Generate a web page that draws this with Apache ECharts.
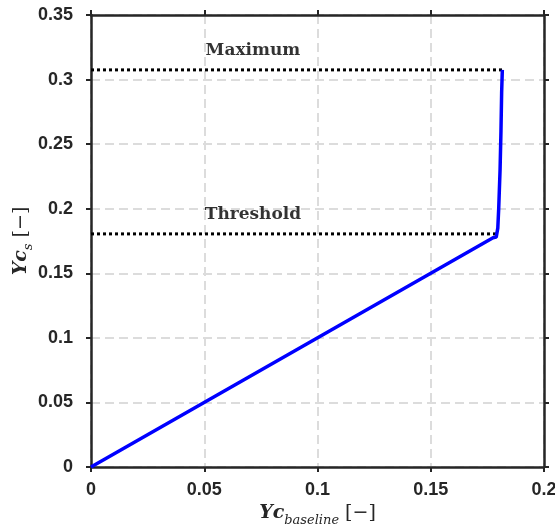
<!DOCTYPE html>
<html>
<head>
<meta charset="utf-8">
<script src="https://cdn.jsdelivr.net/npm/echarts@6/dist/echarts.min.js"></script>
<style>html,body{margin:0;padding:0;background:#fff;}#c{width:555px;height:525px;}</style>
</head>
<body>
<div id="c"></div>
<script>
// Data
var curveX = [0, 0.1775, 0.1789, 0.1796, 0.1800, 0.1806, 0.1810, 0.1813, 0.1816];
var curveY = [0, 0.1775, 0.1780, 0.1850, 0.2000, 0.2300, 0.2600, 0.2900, 0.3075];
var maxLineX = [0, 0.1815];
var maxLineY = [0.3075, 0.3075];
var thrLineX = [0, 0.1789];
var thrLineY = [0.1805, 0.1805];
var annotationText = ['Maximum', 'Threshold'];
var annotationX = [0.0715, 0.0715];
var annotationY = [0.3225, 0.1955];
var xTicks = [0, 0.05, 0.1, 0.15, 0.2];
var yTicks = [0, 0.05, 0.1, 0.15, 0.2, 0.25, 0.3, 0.35];

function zip(a, b) { return a.map(function (v, i) { return [v, b[i]]; }); }

var axisColor = '#262626';
var labelFont = { fontFamily: 'Liberation Sans', fontWeight: 'bold', fontSize: 18, color: '#262626' };
var gridLine = { show: true, lineStyle: { color: '#dcdcdc', width: 2, type: [9, 5] } };
var nameRich = {
  yc: { fontFamily: 'DejaVu Serif', fontStyle: 'italic', fontWeight: 'bold', fontSize: 19, color: '#262626', lineHeight: 24, verticalAlign: 'bottom' },
  sub: { fontFamily: 'DejaVu Serif', fontStyle: 'italic', fontSize: 13, color: '#262626', lineHeight: 24, verticalAlign: 'bottom', padding: [0, 0, -4, 0] },
  br: { fontFamily: 'DejaVu Serif', fontSize: 19, color: '#262626', lineHeight: 24, verticalAlign: 'bottom' }
};
function fmt(v) { return String(+v.toFixed(2)); }

var chart = echarts.init(document.getElementById('c'), null, { renderer: 'canvas' });
chart.setOption({
  animation: false,
  backgroundColor: '#fff',
  grid: { left: 91, right: 11, top: 15, bottom: 58, containLabel: false, outerBoundsMode: 'none' },
  xAxis: [{
    type: 'value', min: 0, max: 0.2, interval: 0.05, position: 'bottom',
    axisLine: { show: true, onZero: false, lineStyle: { color: axisColor, width: 2.5 } },
    axisTick: { show: true, inside: false, length: 5, lineStyle: { color: axisColor, width: 2 } },
    axisLabel: Object.assign({ margin: 14, formatter: fmt }, labelFont),
    splitLine: gridLine,
    name: '{yc|Yc}{sub|baseline}{br| [−]}',
    nameLocation: 'middle', nameGap: 30,
    nameTextStyle: { rich: nameRich }
  }, {
    type: 'value', min: 0, max: 0.2, interval: 0.05, position: 'top',
    axisLine: { show: true, onZero: false, lineStyle: { color: axisColor, width: 2.5 } },
    axisTick: { show: true, inside: false, length: 5, lineStyle: { color: axisColor, width: 2 } },
    axisLabel: { show: false }, splitLine: { show: false }
  }],
  yAxis: [{
    type: 'value', min: 0, max: 0.35, interval: 0.05, position: 'left',
    axisLine: { show: true, onZero: false, lineStyle: { color: axisColor, width: 2.5 } },
    axisTick: { show: true, inside: false, length: 5, lineStyle: { color: axisColor, width: 2 } },
    axisLabel: Object.assign({ margin: 18, formatter: fmt }, labelFont),
    splitLine: gridLine,
    name: '{yc|Yc}{sub|s}{br| [−]}',
    nameLocation: 'middle', nameGap: 60, nameRotate: 90, nameMoveOverlap: false,
    nameTextStyle: { rich: nameRich }
  }, {
    type: 'value', min: 0, max: 0.35, interval: 0.05, position: 'right',
    axisLine: { show: true, onZero: false, lineStyle: { color: axisColor, width: 2.5 } },
    axisTick: { show: true, inside: false, length: 5, lineStyle: { color: axisColor, width: 2 } },
    axisLabel: { show: false }, splitLine: { show: false }
  }],
  series: [{
    type: 'line', data: zip(maxLineX, maxLineY), showSymbol: false, symbol: 'none',
    lineStyle: { color: '#000', width: 3, type: [3, 3] }, z: 3
  }, {
    type: 'line', data: zip(thrLineX, thrLineY), showSymbol: false, symbol: 'none',
    lineStyle: { color: '#000', width: 3, type: [3, 3] }, z: 3
  }, {
    type: 'line', data: zip(curveX, curveY), showSymbol: false, symbol: 'none', smooth: false,
    lineStyle: { color: '#0000ff', width: 3.5 }, z: 4
  }, {
    type: 'scatter', symbolSize: 0,
    data: annotationX.map(function (x, i) { return { value: [x, annotationY[i]], name: annotationText[i] }; }),
    label: {
      show: true, position: 'inside', formatter: function (p) { return p.name; },
      fontFamily: 'DejaVu Serif', fontWeight: 'bold', fontSize: 17, color: '#000'
    }, z: 5
  }]
});
</script>
</body>
</html>
